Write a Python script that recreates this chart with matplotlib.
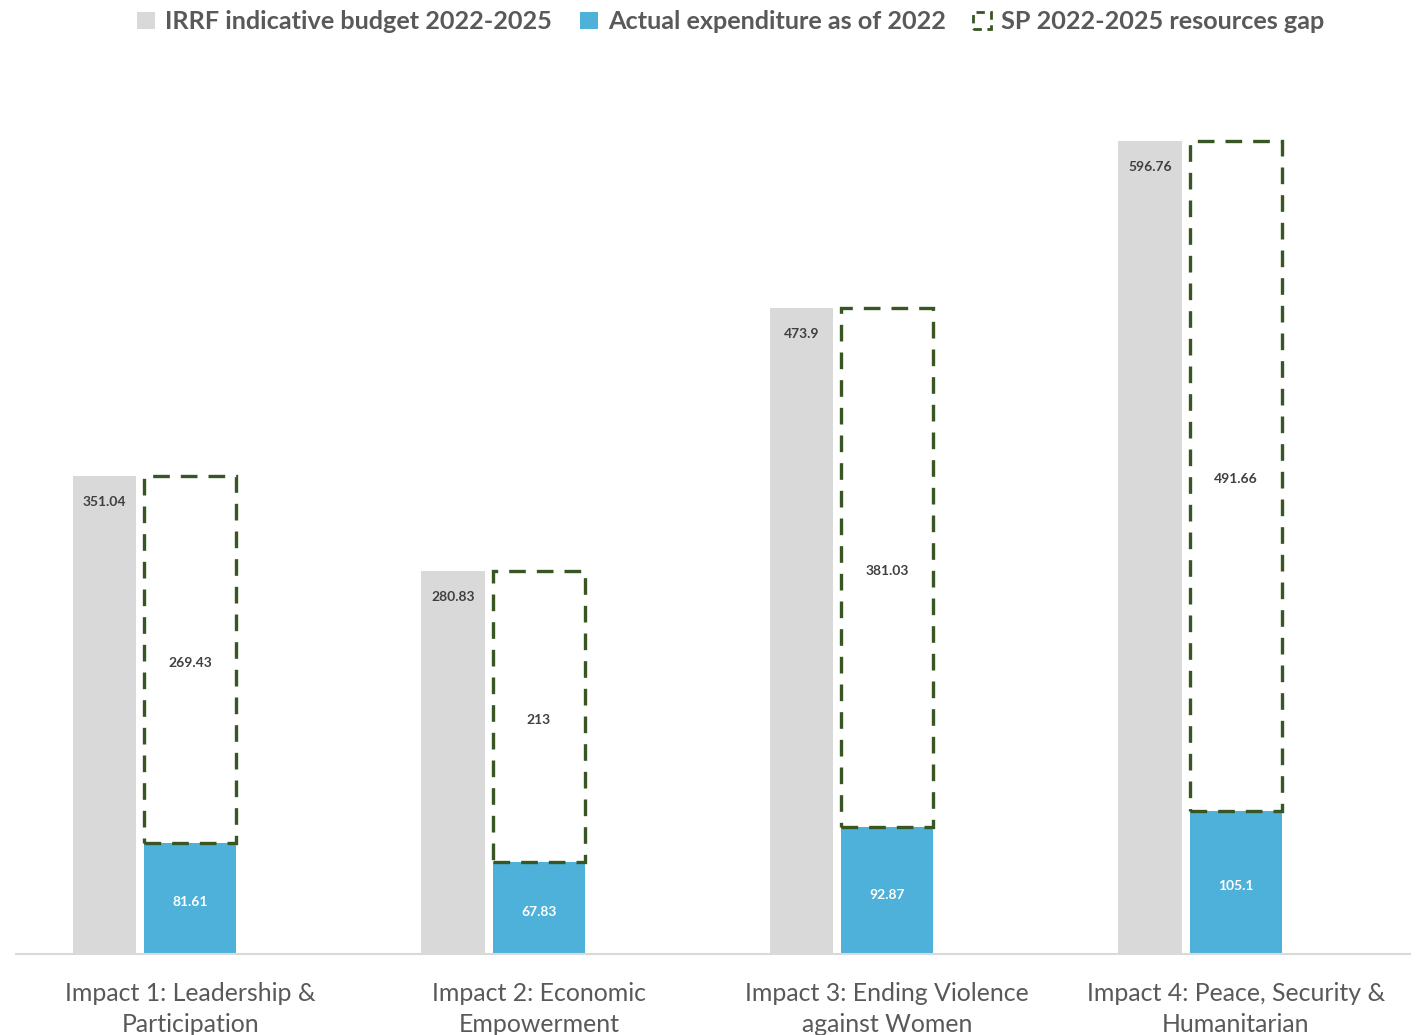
import matplotlib.pyplot as plt
from matplotlib.patches import Patch

categories = ['Impact 1: Leadership &\nParticipation', 'Impact 2: Economic\nEmpowerment',
              'Impact 3: Ending Violence\nagainst Women', 'Impact 4: Peace, Security &\nHumanitarian']
budget = [351.04, 280.83, 473.9, 596.76]
actual = [81.61, 67.83, 92.87, 105.1]
gap = [269.43, 213, 381.03, 491.66]
budget_labels = ['351.04', '280.83', '473.9', '596.76']
actual_labels = ['81.61', '67.83', '92.87', '105.1']
gap_labels = ['269.43', '213', '381.03', '491.66']

plt.rcParams['font.family'] = ['Lato', 'DejaVu Sans']

fig = plt.figure(figsize=(14.22, 10.35), dpi=100)
ax = fig.add_axes([0.01125, 0.0783, 0.98035, 0.8557])

x = list(range(len(categories)))
gray_x = [i - 0.246 for i in x]
ax.bar(gray_x, budget, width=0.183, color='#d9d9d9', zorder=2)
ax.bar(x, actual, width=0.264, color='#4eb1d9', zorder=2)
ax.bar(x, gap, width=0.264, bottom=actual, facecolor='none', edgecolor='#375623',
       linewidth=2.4, linestyle=(0, (5, 3.3)), zorder=3)

for i in x:
    ax.text(gray_x[i], budget[i] - 19, budget_labels[i], ha='center', va='center',
            fontsize=10, fontweight='bold', color='#404040')
    ax.text(i, actual[i] / 2 - 3, actual_labels[i], ha='center', va='center',
            fontsize=10, fontweight='bold', color='white')
    ax.text(i, actual[i] + gap[i] / 2 - 2.5, gap_labels[i], ha='center', va='center',
            fontsize=10, fontweight='bold', color='#404040')

ax.set_xlim(-0.5, 3.5)
ax.set_ylim(0, 650)
ax.set_xticks(x)
ax.set_xticklabels(categories, fontsize=17.9, color='#595959', linespacing=1.45)
ax.tick_params(axis='x', length=0, pad=20)
ax.set_yticks([])
for s in ['top', 'right', 'left']:
    ax.spines[s].set_visible(False)
ax.spines['bottom'].set_color('#d9d9d9')
ax.spines['bottom'].set_linewidth(1.5)

handles = [Patch(facecolor='#d9d9d9', edgecolor='none', label='IRRF indicative budget 2022-2025'),
           Patch(facecolor='#4eb1d9', edgecolor='none', label='Actual expenditure as of 2022'),
           Patch(facecolor='white', edgecolor='#375623', linewidth=2, linestyle=(0, (3, 2)),
                 label='SP 2022-2025 resources gap')]
leg = fig.legend(handles=handles, loc='upper center', bbox_to_anchor=(0.514, 1.012), ncol=3,
                 frameon=False, handlelength=0.7, handleheight=0.7, handletextpad=0.4,
                 columnspacing=1.1, prop={'size': 18.2, 'weight': 'bold'})
for t in leg.get_texts():
    t.set_color('#595959')

fig.savefig('out.png', dpi=100)
